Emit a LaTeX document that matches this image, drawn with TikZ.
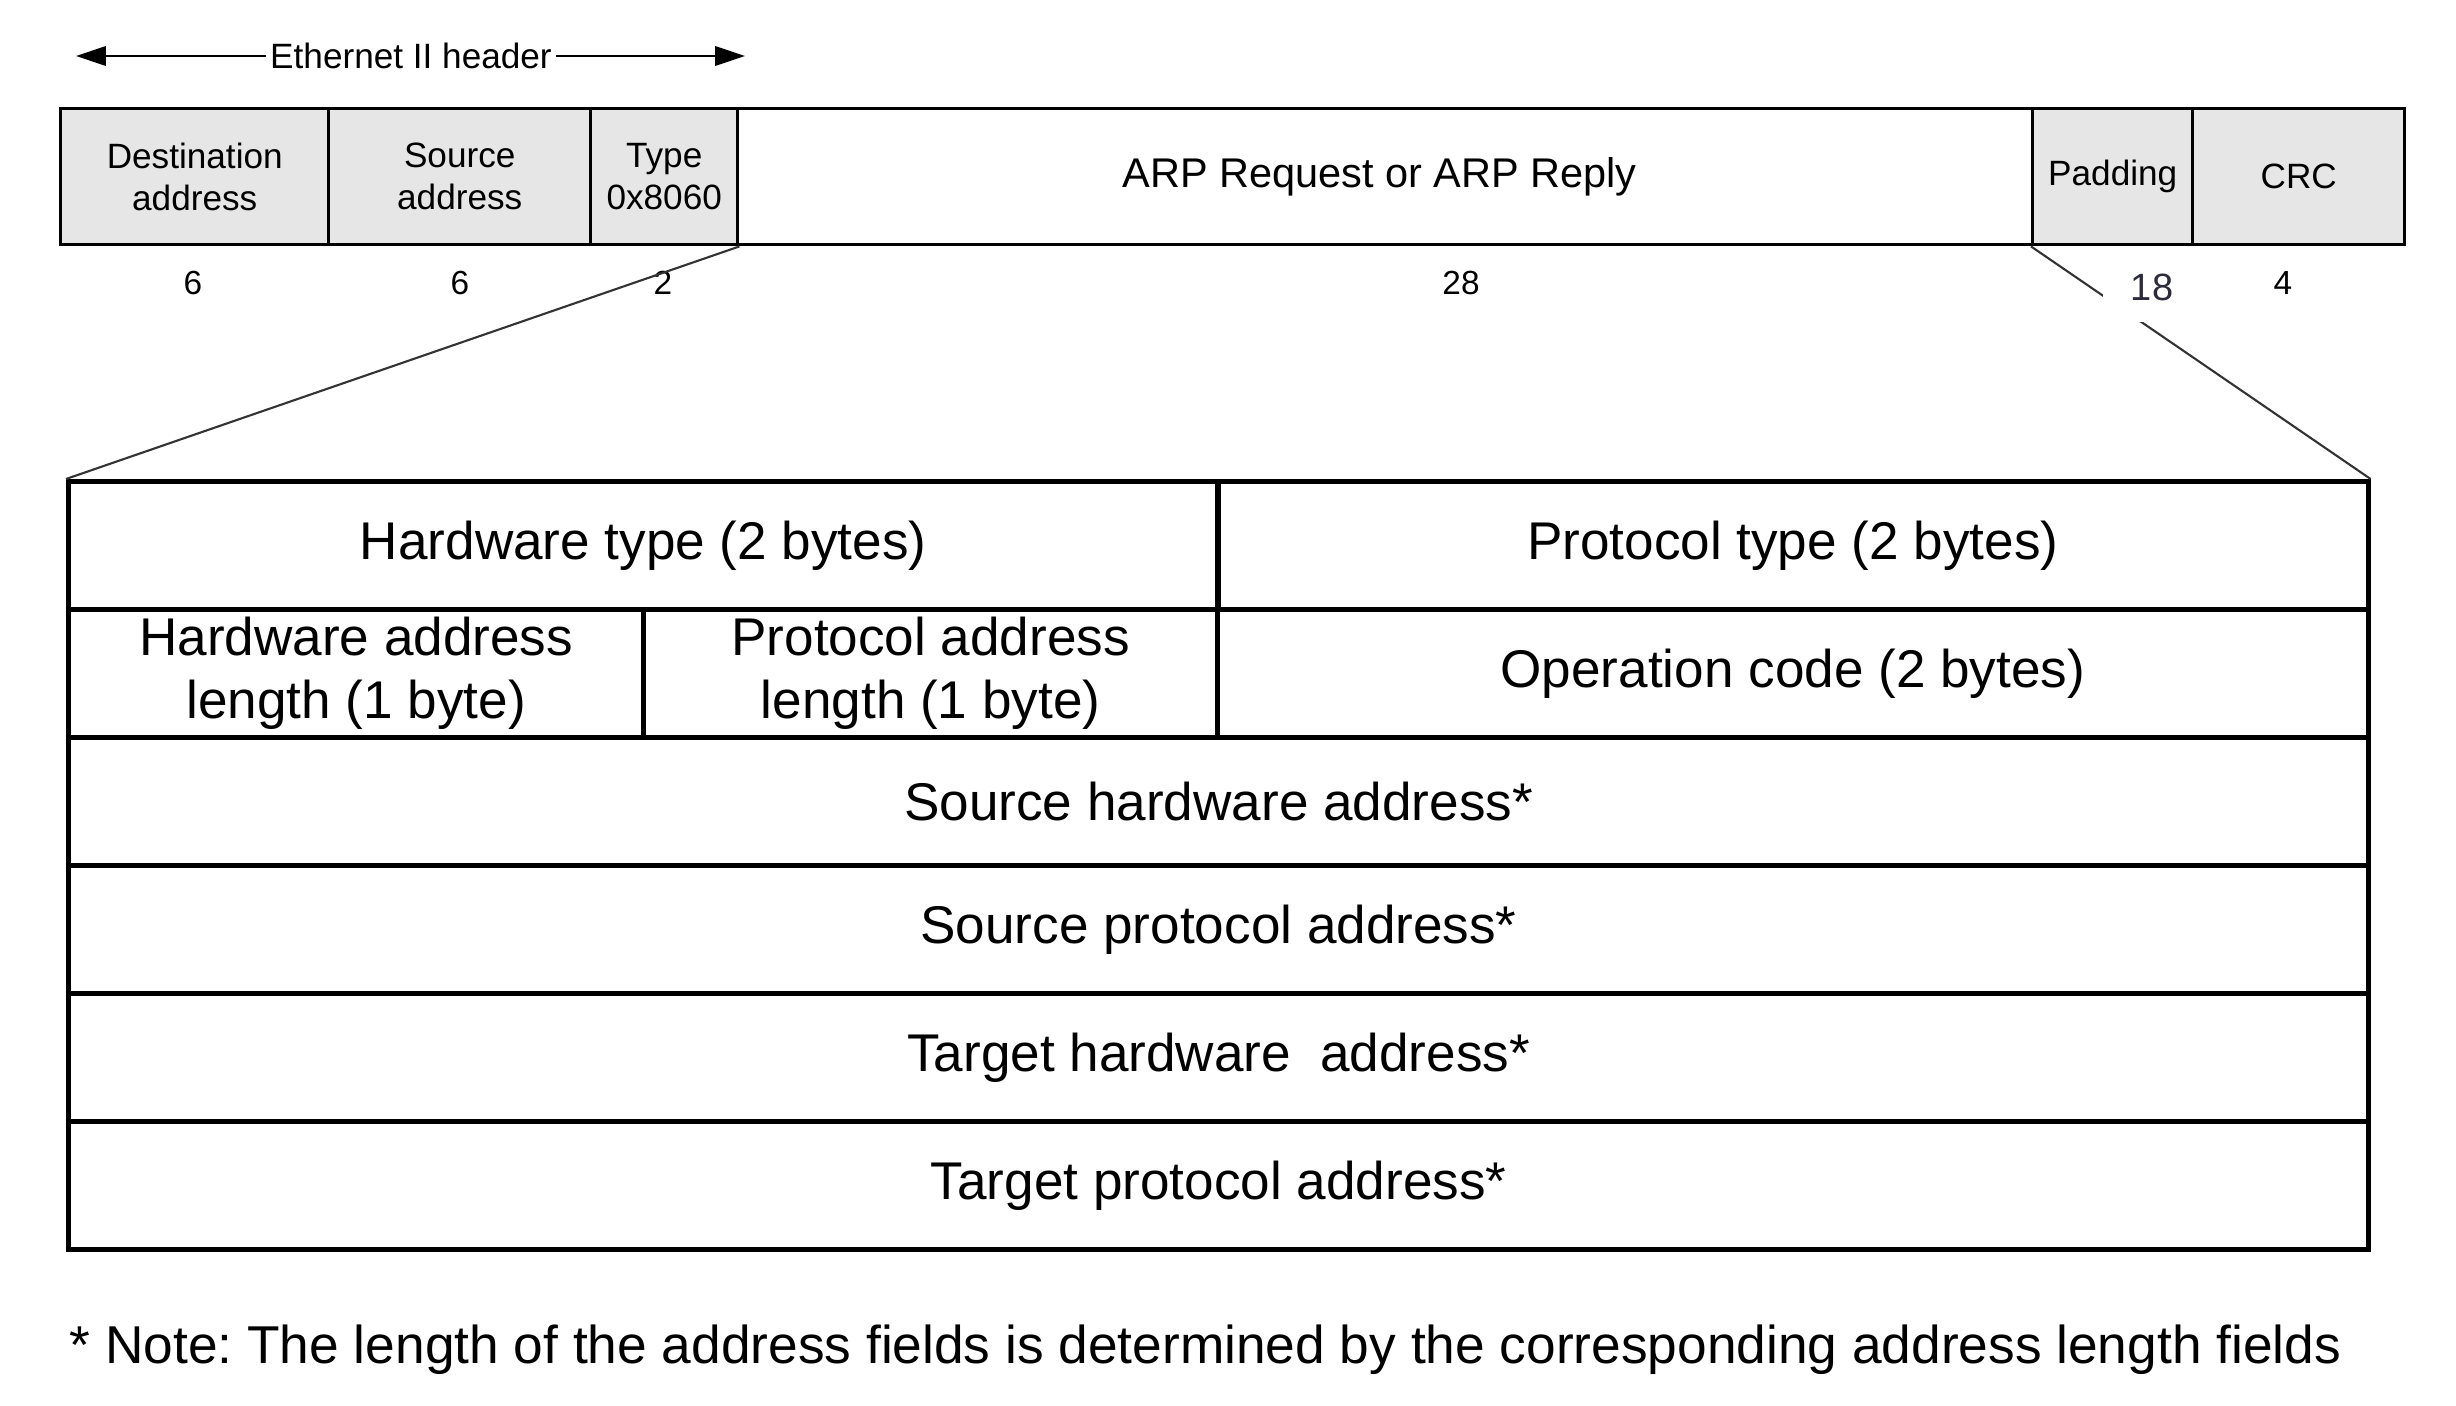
\documentclass[tikz,border=0pt]{standalone}
\usepackage{fontspec}
\setmainfont{Liberation Sans}
\usetikzlibrary{arrows.meta}
\definecolor{fieldgrey}{HTML}{E6E6E6}
\definecolor{linkgrey}{HTML}{333333}
\definecolor{numslate}{HTML}{2B2B3B}
\frenchspacing
\begin{document}
\begin{tikzpicture}[x=0.01cm,y=-0.01cm,
  topbox/.style={draw=black, line width=0.95pt, anchor=north west, inner sep=0pt,
    minimum height=1.36cm, align=center, font=\fontsize{10}{12}\selectfont},
  greybox/.style={topbox, fill=fieldgrey},
  cell/.style={draw=black, line width=1.4pt, anchor=north west, inner sep=0pt,
    minimum height=1.28cm, align=center, font=\fontsize{15.1}{18}\selectfont},
  bytes/.style={font=\fontsize{9.5}{11}\selectfont, inner sep=0pt},
  link/.style={draw=linkgrey, line width=0.6pt},
  hdrarrow/.style={-{Triangle[length=8.5pt,width=5.5pt]}, line width=0.7pt},
  ]
\useasboundingbox (0,0) rectangle (2456,1406);

% Ethernet frame
\node[greybox, minimum width=2.68cm] (dst) at (59,107) {Destination\\address};
\node[greybox, minimum width=2.62cm] (src) at (327,107) {Source\\address};
\node[greybox, minimum width=1.47cm] (typ) at (589,107) {Type\\0x8060};
\node[topbox, minimum width=12.95cm] (arp) at (736,107) {};
\node[font=\fontsize{11.8}{14}\selectfont, inner sep=0pt] (arptext) at ([xshift=-0.06cm]arp.center) {ARP Request or ARP Reply};
\node[greybox, minimum width=1.60cm] (pad) at (2031,107) {Padding};
\node[greybox, minimum width=2.12cm] (crc) at (2191,107) {CRC};

% Ethernet II header arrow
\node[font=\fontsize{10}{12}\selectfont, inner sep=1pt] (eth) at (411,56) {Ethernet II header};
\coordinate (ethL) at (76,56);
\coordinate (ethR) at (745,56);
\draw[hdrarrow] (eth.west) -- (ethL);
\draw[hdrarrow] (eth.east) -- (ethR);

% byte counts
\node[bytes] (b1) at (193,283) {6};
\node[bytes] (b2) at (460,283) {6};
\node[bytes] (b3) at (663,283) {2};
\node[bytes] (b4) at (1461,283) {28};
\node[bytes] (b6) at (2283,283) {4};

% ARP packet table
\node[cell, minimum width=11.49cm] (hwt) at (66,479) {Hardware type (2 bytes)};
\node[cell, minimum width=11.50cm] (prt) at (1215,479) {Protocol type (2 bytes)};
\node[cell, minimum width=5.75cm] (hal) at (66,607) {Hardware address\\length (1 byte)};
\node[cell, minimum width=5.74cm] (pal) at (641,607) {Protocol address\\length (1 byte)};
\node[cell, minimum width=11.50cm] (opc) at (1215,607) {Operation code (2 bytes)};
\node[cell, minimum width=22.99cm] (sha) at (66,735) {Source hardware address*};
\node[cell, minimum width=22.99cm] (spa) at (66,863) {Source protocol address*};
\node[cell, minimum width=22.99cm] (tha) at (66,991) {Target hardware\ \ address*};
\node[cell, minimum width=22.99cm] (tpa) at (66,1119) {Target protocol address*};

% zoom connectors
\draw[link] (typ.south east) -- (hwt.north west);
\draw[link] (pad.south west) -- (prt.north east);
\node[font=\fontsize{10.8}{13}\selectfont, text=numslate, fill=white, inner xsep=8pt, inner ysep=6pt] (b5) at (2152,287) {18};

% note
\node[anchor=base west, font=\fontsize{15.15}{18}\selectfont, inner sep=0pt] (note) at (69,1363)
  {* Note: The length of the address fields is determined by the corresponding address length fields};
\end{tikzpicture}
\end{document}
